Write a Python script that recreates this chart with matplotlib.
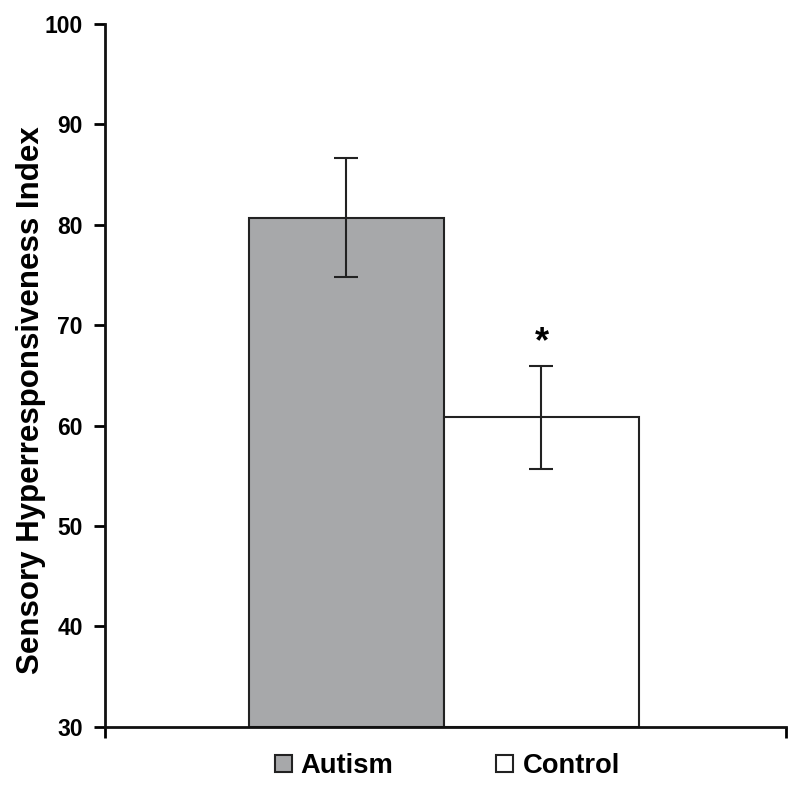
import numpy as np
import matplotlib.pyplot as plt
from matplotlib.patches import Patch

plt.rcParams['font.family'] = ['Liberation Sans', 'DejaVu Sans']

groups = ['Autism', 'Control']
means = [80.7, 60.8]
errors = [5.9, 5.1]
colors = ['#a7a8aa', '#ffffff']

fig = plt.figure(figsize=(8, 7.86), dpi=100)
ax = fig.add_axes([0.13125, 0.0755, 0.8513, 0.894])

x = np.arange(len(groups))
ax.bar(x, [m - 30 for m in means], bottom=30, width=1.0, color=colors,
       edgecolor='#222222', linewidth=1.5)
ax.errorbar(x, means, yerr=errors, fmt='none', ecolor='#222222',
            elinewidth=1.5, capsize=8.5, capthick=1.5)

# significance marker above control
ax.text(x[1], means[1] + errors[1] + 2.4, '*', ha='center', va='center',
        fontsize=26, fontweight='bold')

ax.set_ylim(30, 100)
ax.set_xlim(-1.238, 2.254)
ax.set_yticks(range(30, 101, 10))
ax.set_xticks([-1.238, 2.254])
ax.set_xticklabels([])
ax.spines['top'].set_visible(False)
ax.spines['right'].set_visible(False)
for s in ['left', 'bottom']:
    ax.spines[s].set_linewidth(2.0)
    ax.spines[s].set_color('#111111')
ax.tick_params(axis='y', direction='out', length=8, width=2.0,
               labelsize=16.5, pad=8)
ax.tick_params(axis='x', direction='out', length=8, width=2.0)
for lbl in ax.get_yticklabels():
    lbl.set_fontweight('bold')

ax.set_ylabel('Sensory Hyperresponsiveness Index', fontsize=22.5,
              fontweight='bold')
ax.yaxis.set_label_coords(-0.087, 0.465)

handles = [Patch(facecolor=c, edgecolor='#222222', linewidth=1.5) for c in colors]
fig.legend(handles, groups, loc='center', bbox_to_anchor=(0.559, 0.0254),
           ncol=2, frameon=False, handlelength=0.62, handleheight=0.62,
           handletextpad=0.33, columnspacing=3.76, borderpad=0,
           prop={'size': 19.7, 'weight': 'bold'})

fig.savefig('out.png', dpi=100)
